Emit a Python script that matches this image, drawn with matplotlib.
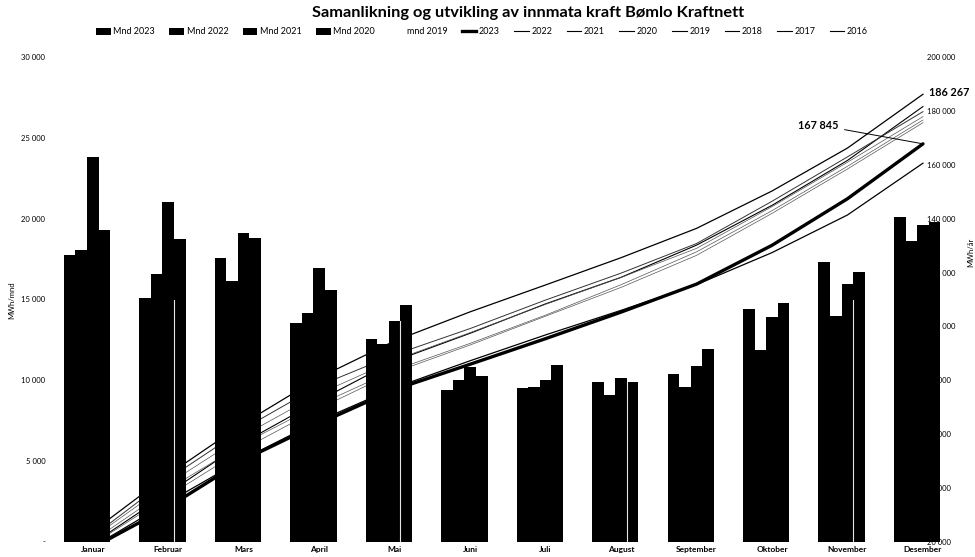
import numpy as np
import matplotlib
matplotlib.use("Agg")
import matplotlib.pyplot as plt
from matplotlib.patches import Patch
from matplotlib.lines import Line2D

plt.rcParams['font.family'] = ['Lato', 'DejaVu Sans']

# ------------------------------------------------------------
# data
# ------------------------------------------------------------
months = ["Januar", "Februar", "Mars", "April", "Mai", "Juni", "Juli",
          "August", "September", "Oktober", "November", "Desember"]

mnd_2023 = [17775, 15090, 17570, 13540, 12570, 9400, 9510, 9860, 10400, 14430, 17300, 20090]
mnd_2022 = [18080, 16600, 16120, 14160, 12260, 10020, 9610, 9115, 9570, 11885, 13990, 18640]
mnd_2021 = [23830, 21060, 19120, 16950, 13660, 10790, 10000, 10130, 10890, 13890, 15960, 19635]
mnd_2020 = [19325, 18750, 18830, 15600, 14650, 10290, 10935, 9860, 11965, 14780, 16700, 19780]

# accumulated per year (MWh/år)
akk_2023 = [17775, 32865, 50435, 63975, 76545, 85945, 95455, 105315, 115715, 130145, 147445, 167845]
akk_2022 = [18080, 34680, 50800, 64960, 77220, 87240, 96850, 105965, 115535, 127420, 141410, 160650]
akk_2021 = [23830, 44890, 64010, 80960, 94620, 105410, 115410, 125540, 136430, 150320, 166280, 186267]
akk_2020 = [19325, 38075, 56905, 72505, 87155, 97445, 108380, 118240, 130205, 144985, 161685, 181700]
akk_2019 = [22000, 43300, 62000, 78000, 89500, 99200, 109800, 119800, 130800, 146500, 163000, 179800]
akk_2018 = [21500, 41500, 59500, 75000, 87500, 97700, 108200, 118200, 129000, 144500, 161000, 177950]
akk_2017 = [20300, 39500, 56500, 71000, 83800, 93700, 104200, 115500, 127700, 143000, 159500, 176700]
akk_2016 = [19000, 37000, 54500, 69500, 83000, 93100, 103800, 114500, 126400, 142000, 158500, 175700]

W, H = 975, 557

def fx(px):
    return px / W

def fy(py):
    return 1 - py / H

fig = plt.figure(figsize=(9.75, 5.57), dpi=100)
left, right = 55, 960.7
top, bottom = 57.3, 541.7
ax = fig.add_axes([fx(left), fy(bottom), fx(right - left), (bottom - top) / H])
ax2 = ax.twinx()

# bars above the lines
ax.set_zorder(ax2.get_zorder() + 1)
ax.patch.set_visible(False)

x = np.arange(len(months))
w = 0.1537
bar_series = [mnd_2023, mnd_2022, mnd_2021, mnd_2020]
for k, vals in enumerate(bar_series):
    ax.bar(x + (k - 2) * w, vals, width=w, color="black", edgecolor="none", align="center")

# thin light seams seen in every 3rd group
for i in [1, 4, 7, 10]:
    top_seam = min(15000, mnd_2021[i], mnd_2020[i])
    ax.plot([i + 0.5 * w, i + 0.5 * w], [0, top_seam], color="#e4e4e4", lw=0.8, zorder=5)

ax.set_xlim(-0.5, 11.5)
ax.set_ylim(0, 30000)
ax.set_yticks(range(0, 30001, 5000))
ax.set_yticklabels(["-"] + [f"{v:,}".replace(",", " ") for v in range(5000, 30001, 5000)])
ax.set_xticks(x)
ax.set_xticklabels(months, fontsize=6, fontweight="bold")
ax.tick_params(axis="y", length=0, labelsize=5.5, pad=7)
ax.tick_params(axis="x", length=0, pad=3)

# accumulated lines
thin = [(akk_2022, 0.9, "black"), (akk_2021, 0.9, "black"), (akk_2020, 0.8, "black"),
        (akk_2019, 0.7, "#333333"), (akk_2018, 0.5, "#555555"),
        (akk_2017, 0.5, "#555555"), (akk_2016, 0.5, "#555555")]
for vals, lw, c in thin:
    ax2.plot(x, vals, color=c, lw=lw)
ax2.plot(x, akk_2023, color="black", lw=2.4, solid_capstyle="round")

ax2.set_ylim(20000, 200000)
ax2.set_yticks(range(20000, 200001, 20000))
ax2.set_yticklabels([f"{v:,}".replace(",", " ") for v in range(20000, 200001, 20000)])
ax2.tick_params(axis="y", length=0, labelsize=5.5, pad=-24)

for a in (ax, ax2):
    for s in a.spines.values():
        s.set_visible(False)

# labels
fig.text(fx(528), fy(13), "Samanlikning og utvikling av innmata kraft Bømlo Kraftnett",
         ha="center", va="center", fontsize=11.8, fontweight="bold")
fig.text(fx(12), fy(300), "MWh/mnd", rotation=90, ha="center", va="center", fontsize=5.5)
fig.text(fx(971), fy(252), "MWh/år", rotation=90, ha="center", va="center", fontsize=5.5)

fig.text(fx(929), fy(93), "186 267", ha="left", va="center", fontsize=7.8, fontweight="bold")
ax2.annotate("167 845", xy=(11, akk_2023[-1]), xycoords="data",
             xytext=(fx(839), fy(125)), textcoords="figure fraction",
             ha="right", va="center", fontsize=7.8, fontweight="bold",
             arrowprops=dict(arrowstyle="-", color="black", lw=0.7,
                             shrinkA=2, shrinkB=0))

# legend
handles = [Patch(facecolor="black") for _ in range(4)]
handles.append(Patch(facecolor="none", edgecolor="none"))
handles.append(Line2D([], [], color="black", lw=2.4))
handles += [Line2D([], [], color="black", lw=0.8) for _ in range(7)]
labels = ["Mnd 2023", "Mnd 2022", "Mnd 2021", "Mnd 2020", "mnd 2019",
          "2023", "2022", "2021", "2020", "2019", "2018", "2017", "2016"]
fig.legend(handles, labels, loc="center", bbox_to_anchor=(fx(482), fy(32)), ncol=13,
           frameon=False, fontsize=6.5, handlelength=1.6, handleheight=0.7,
           columnspacing=1.6, handletextpad=0.3)

fig.savefig("out.png", dpi=100)
